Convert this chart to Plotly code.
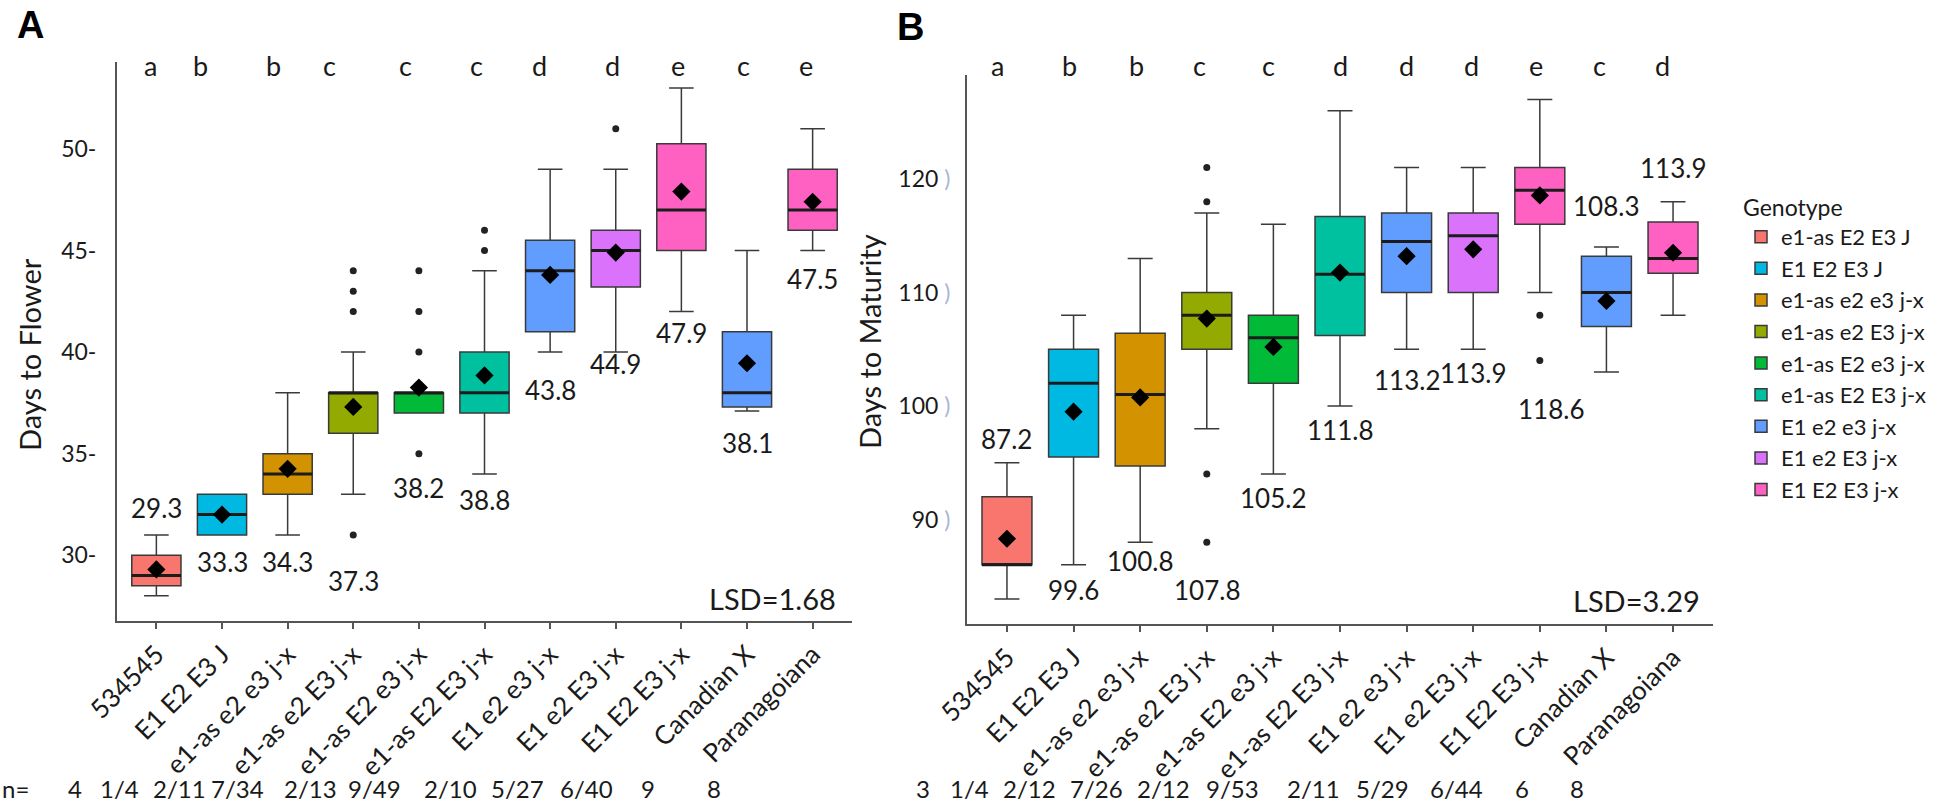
import plotly.graph_objects as go

W, H = 1946, 805

# ---------------- data ----------------
categories = ["534545", "E1 E2 E3 J", "e1-as e2 e3 j-x", "e1-as e2 E3 j-x", "e1-as E2 e3 j-x",
              "e1-as E2 E3 j-x", "E1 e2 e3 j-x", "E1 e2 E3 j-x", "E1 E2 E3 j-x",
              "Canadian X", "Paranagoiana"]
genotypes = ["e1-as E2 E3 J", "E1 E2 E3 J", "e1-as e2 e3 j-x", "e1-as e2 E3 j-x",
             "e1-as E2 e3 j-x", "e1-as E2 E3 j-x", "E1 e2 e3 j-x", "E1 e2 E3 j-x", "E1 E2 E3 j-x"]
genotype_colors = ["#F8766D", "#00B9E3", "#D39200", "#93AA00", "#00BA38",
                   "#00C19F", "#619CFF", "#DB72FB", "#FF61C3"]
cat_genotype = [0, 1, 2, 3, 4, 5, 6, 7, 8, 6, 8]

# Panel A: Days to Flower
flw_lower = [28, 31, 31, 33, 37, 34, 40, 40, 42, 37.1, 45]
flw_q1 = [28.5, 31, 33, 36, 37, 37, 41, 43.2, 45, 37.3, 46]
flw_median = [29, 32, 34, 38, 38, 38, 44, 45, 47, 38, 47]
flw_q3 = [30, 33, 35, 38, 38, 40, 45.5, 46, 50.25, 41, 49]
flw_upper = [31, 33, 38, 40, 38, 44, 49, 49, 53, 45, 51]
flw_mean = [29.3, 32.0, 34.25, 37.3, 38.25, 38.85, 43.8, 44.9, 47.9, 39.45, 47.4]
flw_out_cat = [3, 3, 3, 3, 4, 4, 4, 4, 5, 5, 7]
flw_out_val = [44, 43, 42, 31, 44, 42, 40, 35, 46, 45, 51]
flw_labels = ["29.3", "33.3", "34.3", "37.3", "38.2", "38.8", "43.8", "44.9", "47.9", "38.1", "47.5"]
flw_label_y = [32.3, 29.67, 29.67, 28.75, 33.3, 32.7, 38.15, 39.4, 40.95, 35.5, 43.6]
flw_letters = ["a", "b", "b", "c", "c", "c", "d", "d", "e", "c", "e"]
flw_n = ["4", "1/4", "2/11", "7/34", "2/13", "9/49", "2/10", "5/27", "6/40", "9", "8"]
flw_lsd = "LSD=1.68"

# Panel B: Days to Maturity
mat_lower = [83, 86, 88, 98, 94, 100, 105, 105, 110, 103, 108]
mat_q1 = [86, 95.5, 94.7, 105, 102, 106.2, 110, 110, 116, 107, 111.7]
mat_median = [86, 102, 101, 108, 106, 111.6, 114.5, 115, 119, 110, 113]
mat_q3 = [92, 105, 106.4, 110, 108, 116.7, 117, 117, 121, 113.2, 116.2]
mat_upper = [95, 108, 113, 117, 116, 126, 121, 121, 127, 114, 118]
mat_mean = [88.3, 99.5, 100.75, 107.7, 105.2, 111.75, 113.2, 113.8, 118.55, 109.25, 113.5]
mat_out_cat = [3, 3, 3, 3, 8, 8]
mat_out_val = [121, 118, 94, 88, 108, 104]
mat_labels = ["87.2", "99.6", "100.8", "107.8", "105.2", "111.8", "113.2", "113.9", "118.6", "108.3", "113.9"]
mat_label_y = [97.06, 83.8, 86.3, 83.8, 91.9, 97.9, 102.3, 102.9, 99.7, 117.6, 121.0]
mat_letters = ["a", "b", "b", "c", "c", "d", "d", "d", "e", "c", "d"]
mat_n = ["3", "1/4", "2/12", "7/26", "2/12", "9/53", "2/11", "5/29", "6/44", "6", "8"]
mat_lsd = "LSD=3.29"

flw_yticks = [30, 35, 40, 45, 50]
mat_yticks = [90, 100, 110, 120]

# ---------------- layout helpers (pixel positions) ----------------
def px(x):
    return x / W

def py(y):
    return 1 - y / H

FONT = "Lato, 'Open Sans', sans-serif"
TXT = "#1a1a1a"
BOX_HALF = 0.375

flw_letter_shift = [-6, -22, -14, -24, -13, -8, -11, -3, -3, -4, -7]
mat_letter_shift = [-9, -4, -4, -7, -5, 0, 0, -2, -4, -7, -11]
flw_n_xpx = [75, 119, 179, 237, 310, 374, 450, 517, 586, 648, 714]
mat_n_xpx = [923, 969, 1029, 1096, 1163, 1232, 1313, 1382, 1456, 1522, 1577]

fig = go.Figure()
seen = set()


def add_panel(xa, ya, lower, q1, med, q3, upper, mean, out_cat, out_val, legend):
    for i in range(len(categories)):
        g = cat_genotype[i]
        show = legend and g not in seen
        if show:
            seen.add(g)
        fig.add_trace(go.Box(
            x=[i], q1=[q1[i]], median=[med[i]], q3=[q3[i]],
            lowerfence=[lower[i]], upperfence=[upper[i]],
            width=0.75, fillcolor=genotype_colors[g],
            line=dict(color="#3a3a3a", width=1.5),
            name=genotypes[g], showlegend=show, boxpoints=False,
            xaxis=xa, yaxis=ya, hoverinfo="skip"))
    mx, my = [], []
    for i in range(len(categories)):
        mx += [i - BOX_HALF, i + BOX_HALF, None]
        my += [med[i], med[i], None]
    fig.add_trace(go.Scatter(x=mx, y=my, mode="lines", line=dict(color="#1c1c1c", width=3),
                             showlegend=False, xaxis=xa, yaxis=ya, hoverinfo="skip"))
    fig.add_trace(go.Scatter(x=out_cat, y=out_val, mode="markers",
                             marker=dict(color="#222222", size=7, symbol="circle"),
                             showlegend=False, xaxis=xa, yaxis=ya, hoverinfo="skip"))
    fig.add_trace(go.Scatter(x=list(range(len(categories))), y=mean, mode="markers",
                             marker=dict(color="#000000", size=14, symbol="diamond"),
                             showlegend=False, xaxis=xa, yaxis=ya, hoverinfo="skip"))


add_panel("x", "y", flw_lower, flw_q1, flw_median, flw_q3, flw_upper, flw_mean,
          flw_out_cat, flw_out_val, True)
add_panel("x2", "y2", mat_lower, mat_q1, mat_median, mat_q3, mat_upper, mat_mean,
          mat_out_cat, mat_out_val, False)

ann = []


def note(**kw):
    kw.setdefault("showarrow", False)
    kw.setdefault("xanchor", "center")
    kw.setdefault("yanchor", "middle")
    ann.append(kw)


# mean labels
for i, (t, yv) in enumerate(zip(flw_labels, flw_label_y)):
    note(x=i, y=yv, xref="x", yref="y", text=t, font=dict(family=FONT, size=26, color=TXT))
for i, (t, yv) in enumerate(zip(mat_labels, mat_label_y)):
    note(x=i, y=yv, xref="x2", yref="y2", text=t, xshift=(11 if i == 8 else 0),
         font=dict(family=FONT, size=26, color=TXT))
# significance letters
for i, t in enumerate(flw_letters):
    note(x=i, y=py(65), xref="x", yref="paper", text=t, xshift=flw_letter_shift[i],
         font=dict(family=FONT, size=27, color=TXT))
for i, t in enumerate(mat_letters):
    note(x=i, y=py(65), xref="x2", yref="paper", text=t, xshift=mat_letter_shift[i],
         font=dict(family=FONT, size=27, color=TXT))
# n row
note(x=px(15), y=py(788), xref="paper", yref="paper", text="n=", font=dict(family=FONT, size=24, color=TXT))
for t, xp in zip(flw_n, flw_n_xpx):
    note(x=px(xp), y=py(788), xref="paper", yref="paper", text=t, font=dict(family=FONT, size=24, color=TXT))
for t, xp in zip(mat_n, mat_n_xpx):
    note(x=px(xp), y=py(788), xref="paper", yref="paper", text=t, font=dict(family=FONT, size=24, color=TXT))
# LSD
note(x=px(772), y=py(598), xref="paper", yref="paper", text=flw_lsd, font=dict(family=FONT, size=29, color=TXT))
note(x=px(1636), y=py(600), xref="paper", yref="paper", text=mat_lsd, font=dict(family=FONT, size=29, color=TXT))
# y titles
note(x=px(29), y=py(355), xref="paper", yref="paper", text="Days to Flower", textangle=-90,
     font=dict(family=FONT, size=29, color=TXT))
note(x=px(870), y=py(342), xref="paper", yref="paper", text="Days to Maturity", textangle=-90,
     font=dict(family=FONT, size=29, color=TXT))
# panel letters
note(x=px(30), y=py(25), xref="paper", yref="paper", text="<b>A</b>",
     font=dict(family="Liberation Sans, Arial, sans-serif", size=38, color="#000"))
note(x=px(910), y=py(27), xref="paper", yref="paper", text="<b>B</b>",
     font=dict(family="Liberation Sans, Arial, sans-serif", size=38, color="#000"))

axis_common = dict(showgrid=False, zeroline=False, showline=True, linecolor="#555555", linewidth=2,
                   automargin=False)

xaxis_common = dict(axis_common, range=[-0.6, 10.6], tickvals=list(range(len(categories))),
                    ticktext=categories, tickangle=-45, ticks="outside", ticklen=6,
                    tickcolor="#555555", tickwidth=1.5,
                    tickfont=dict(family=FONT, size=26, color=TXT))

fig.update_layout(
    width=W, height=H, margin=dict(l=0, r=0, t=0, b=0, autoexpand=False),
    paper_bgcolor="white", plot_bgcolor="white", boxmode="overlay",
    xaxis=dict(xaxis_common, domain=[px(117), px(852)], anchor="y"),
    yaxis=dict(axis_common, domain=[py(621), py(62)], range=[26.76, 54.28], anchor="x",
               tickvals=flw_yticks, ticktext=[f"{v}-" for v in flw_yticks], ticks="",
               ticklabelstandoff=14, tickfont=dict(family=FONT, size=23, color=TXT)),
    xaxis2=dict(xaxis_common, domain=[px(967), px(1713)], anchor="y2"),
    yaxis2=dict(axis_common, domain=[py(624), py(75)], range=[80.79, 129.16], anchor="x2",
                tickvals=mat_yticks,
                ticktext=[f"{v} <span style='color:#a9b5d6'>)</span>" for v in mat_yticks],
                ticks="", ticklabelstandoff=10, tickfont=dict(family=FONT, size=23, color=TXT)),
    legend=dict(x=px(1741), y=py(186), xanchor="left", yanchor="top",
                title=dict(text="Genotype", font=dict(family=FONT, size=23, color=TXT)),
                font=dict(family=FONT, size=22, color=TXT), bgcolor="rgba(0,0,0,0)",
                tracegroupgap=0),
    annotations=ann,
)

fig.write_html("out.html", config={"displayModeBar": False},
               post_script="document.body.style.margin='0';document.body.style.overflow='hidden';")
